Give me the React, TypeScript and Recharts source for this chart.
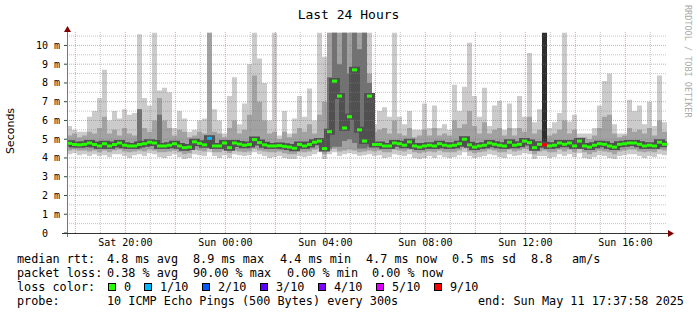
import React from 'react';
import { ComposedChart, Area, Line, Scatter, XAxis, YAxis, ReferenceLine } from 'recharts';

// time axis in hours since Sat 00:00, one column every 12 minutes
const T0 = 17 + 40 / 60;
const STEP = 0.2;
const YMAX = 10.77;

const med = [
  4.78, 4.72, 4.70, 4.73, 4.80, 4.72, 4.64, 4.76, 4.64, 4.72,
  4.80, 4.68, 4.64, 4.64, 4.72, 4.76, 4.84, 4.80, 4.64, 4.64,
  4.68, 4.76, 4.64, 4.55, 4.58, 4.86, 4.78, 4.70, 5.05, 4.64,
  4.64, 4.80, 4.55, 4.80, 4.74, 4.68, 4.72, 4.98, 4.82, 4.70,
  4.64, 4.64, 4.66, 4.62, 4.58, 4.52, 4.72, 4.64, 4.72, 4.84,
  4.90, 4.50, 5.40, 8.10, 7.30, 5.60, 6.20, 8.70, 5.50, 4.90,
  7.30, 4.72, 4.72, 4.64, 4.64, 4.80, 4.76, 4.68, 4.86, 4.64,
  4.58, 4.64, 4.68, 4.64, 4.76, 4.68, 4.64, 4.68, 4.76, 5.00,
  4.70, 4.58, 4.64, 4.68, 4.80, 4.73, 4.68, 4.64, 4.84, 4.68,
  4.73, 4.90, 4.82, 4.55, 4.73, 4.70, 4.64, 4.68, 4.80, 4.73,
  4.80, 4.64, 4.90, 4.64, 4.58, 4.68, 4.76, 4.73, 4.64, 4.58,
  4.73, 4.76, 4.80, 4.80, 4.73, 4.64, 4.68, 4.64, 4.84, 4.73,
];

const hi = [
  5.7, 5.5, 5.4, 5.4, 6.2, 6.5, 7.2, 8.7, 6.0, 6.5,
  6.1, 6.6, 6.3, 6.4, 10.6, 7.2, 6.8, 10.68, 7.6, 7.75,
  7.5, 5.6, 6.5, 6.1, 5.4, 5.5, 6.0, 6.1, 10.68, 6.6,
  6.0, 5.3, 7.3, 8.3, 5.8, 6.9, 9.0, 10.68, 9.3, 8.0,
  6.0, 10.68, 5.2, 6.5, 5.3, 6.1, 7.3, 6.2, 7.7, 6.0,
  10.68, 9.4, 10.68, 10.68, 10.68, 10.68, 10.68, 10.68, 10.68, 10.68,
  10.68, 5.8, 6.5, 6.7, 6.2, 10.68, 6.2, 5.8, 6.5, 5.5,
  5.5, 6.9, 5.6, 6.8, 5.6, 5.8, 5.5, 7.9, 6.5, 7.8,
  10.15, 7.3, 6.2, 7.75, 5.7, 6.8, 7.05, 5.5, 6.9, 5.6,
  7.3, 6.2, 9.6, 5.9, 6.6, 6.0, 5.6, 5.9, 6.4, 10.68,
  5.95, 6.3, 5.3, 5.3, 5.3, 5.6, 6.8, 8.1, 8.5, 5.8,
  5.3, 5.3, 7.1, 6.5, 6.8, 5.8, 7.0, 5.7, 8.4, 5.9,
];

const mhi = [
  5.2, 5.3, 5.1, 5.2, 5.4, 5.3, 5.6, 6.2, 5.3, 5.5,
  5.2, 5.6, 5.3, 5.2, 6.6, 5.6, 5.4, 6.0, 7.2, 6.0,
  5.6, 5.2, 5.5, 5.4, 5.1, 5.2, 5.4, 5.3, 10.68, 5.4,
  5.3, 5.1, 5.6, 6.0, 5.3, 5.5, 6.3, 8.4, 7.0, 6.0,
  5.3, 5.4, 5.0, 5.4, 5.1, 5.3, 5.6, 5.4, 5.8, 5.3,
  6.3, 7.0, 10.68, 10.68, 10.68, 10.68, 10.68, 10.68, 10.68, 10.68,
  8.5, 5.4, 5.5, 5.6, 5.3, 6.0, 5.3, 5.2, 5.6, 5.1,
  5.2, 5.5, 5.2, 5.6, 5.2, 5.3, 5.2, 6.0, 5.6, 5.8,
  6.5, 5.7, 5.3, 5.9, 5.3, 5.5, 5.6, 5.2, 5.6, 5.2,
  5.6, 5.4, 6.2, 5.3, 5.5, 5.5, 5.2, 5.3, 5.5, 6.0,
  5.3, 5.5, 5.1, 5.1, 5.0, 5.2, 5.6, 6.2, 6.3, 5.3,
  5.1, 5.2, 5.6, 5.4, 5.5, 5.3, 5.6, 5.2, 6.0, 5.4,
];

const mlo = [
  4.40, 4.45, 4.40, 4.40, 4.35, 4.40, 4.30, 4.40, 4.30, 4.40,
  4.45, 4.35, 4.30, 4.35, 4.40, 4.35, 4.45, 4.40, 4.30, 4.30,
  4.35, 4.40, 4.30, 4.20, 4.25, 4.45, 4.40, 4.35, 4.50, 4.30,
  4.30, 4.40, 4.25, 4.40, 4.35, 4.30, 4.35, 4.50, 4.40, 4.35,
  4.30, 4.30, 4.35, 4.25, 4.20, 4.20, 4.35, 4.30, 4.35, 4.45,
  4.50, 4.20, 4.40, 4.50, 4.35, 4.40, 4.45, 4.40, 4.30, 4.35,
  4.40, 4.35, 4.40, 4.30, 4.30, 4.45, 4.40, 4.35, 4.45, 4.30,
  4.25, 4.30, 4.35, 4.30, 4.40, 4.30, 4.30, 4.30, 4.40, 4.55,
  4.35, 4.25, 4.30, 4.35, 4.45, 4.40, 4.30, 4.30, 4.45, 4.35,
  4.40, 4.50, 4.45, 4.20, 4.35, 4.40, 4.30, 4.30, 4.45, 4.35,
  4.45, 4.30, 4.50, 4.30, 4.20, 4.30, 4.40, 4.35, 4.30, 4.20,
  4.35, 4.40, 4.45, 4.45, 4.35, 4.30, 4.35, 4.30, 4.45, 4.40,
];

const lo = [
  4.20, 4.25, 4.15, 4.20, 4.10, 4.20, 4.10, 4.15, 4.05, 4.20,
  4.20, 4.10, 4.00, 4.15, 4.20, 4.10, 4.25, 4.20, 4.05, 4.00,
  4.10, 4.20, 4.05, 3.95, 4.00, 4.20, 4.15, 4.10, 4.30, 4.10,
  4.00, 4.15, 4.00, 4.20, 4.15, 4.10, 4.15, 4.30, 4.20, 4.10,
  4.00, 4.05, 4.10, 4.00, 3.95, 3.95, 4.10, 4.05, 4.10, 4.20,
  4.30, 3.95, 4.20, 4.30, 4.10, 4.20, 4.25, 4.20, 4.10, 4.15,
  4.20, 4.10, 4.15, 4.00, 4.05, 4.20, 4.15, 4.10, 4.20, 4.00,
  3.95, 4.00, 4.10, 4.00, 4.15, 4.05, 4.00, 4.05, 4.15, 4.30,
  4.10, 4.00, 4.05, 4.10, 4.20, 4.15, 4.05, 4.00, 4.20, 4.10,
  4.15, 4.25, 4.20, 3.95, 4.10, 4.10, 4.00, 4.05, 4.20, 4.10,
  4.20, 4.05, 4.25, 4.00, 3.95, 4.05, 4.15, 4.10, 4.00, 3.95,
  4.10, 4.15, 4.20, 4.20, 4.10, 4.00, 4.10, 4.05, 4.20, 4.15,
];

// [column, low, high] of the dark smoke during the early morning burst
const darkBars = [
  [14, 4.5, 6.6], [18, 4.6, 6.3],
  [52, 4.5, 8.3], [53, 4.6, 10.68], [54, 4.6, 9.0], [55, 4.9, 10.68], [56, 5.0, 8.5],
  [57, 4.8, 10.68], [58, 4.5, 9.8], [59, 4.5, 10.68], [60, 4.6, 8.0],
];
const blackBars = [[95, 4.7, 10.68]];
// [column, lost pings out of 10]
const lossAt = [[28, 1], [95, 9]];

const lossColors: Record<number, string> = {
  0: '#26ff00', 1: '#00b8ff', 2: '#0059ff', 3: '#5e00ff', 4: '#7e00ff', 5: '#dd00ff', 9: '#ff0000',
};

const xTicks = [20, 24, 28, 32, 36, 40];
const xTickLabels = ['Sat 20:00', 'Sun 00:00', 'Sun 04:00', 'Sun 08:00', 'Sun 12:00', 'Sun 16:00'];
const yTicks = [0, 1, 2, 3, 4, 5, 6, 7, 8, 9, 10];

const hourLines = Array.from({ length: 24 }, (_, k) => 18 + k);
const msLines = Array.from({ length: 21 }, (_, k) => 0.5 + k * 0.5);

const rows = med.map((m, i) => {
  const d = darkBars.find((b) => b[0] === i);
  const b = blackBars.find((b) => b[0] === i);
  const l = lossAt.find((x) => x[0] === i);
  return {
    t: T0 + i * STEP,
    med: m,
    light: [lo[i], hi[i]],
    mid: [mlo[i], mhi[i]],
    dark: d ? [d[1], d[2]] : [m, m],
    black: b ? [b[1], b[2]] : [m, m],
    loss: l ? l[1] : 0,
  };
});
const data = [...rows, { ...rows[rows.length - 1], t: T0 + 24 }];

const MONO = 'DejaVu Sans Mono';

const MedianMark = (p: any) => (
  <rect x={p.cx} y={p.cy - 1.5} width={5} height={3} fill={lossColors[p.payload.loss]} />
);

const renderYTick = (p: any) => {
  const v = p.payload.value;
  return (
    <g>
      <line x1={p.x - 3} x2={p.x + 1} y1={p.y} y2={p.y} stroke="#2C4D43" />
      <text x={v === 0 ? p.x - 19 : p.x - 7} y={p.y + 3.5} textAnchor="end" fontFamily={MONO} fontSize={10} fill="#000">
        {v === 0 ? '0' : `${v} m`}
      </text>
    </g>
  );
};

const renderXTick = (p: any) => (
  <text x={p.x} y={p.y + 12.5} textAnchor="middle" fontFamily={MONO} fontSize={10} fill="#000">
    {xTickLabels[xTicks.indexOf(p.payload.value)]}
  </text>
);

const legendFont = { fontFamily: MONO, fontSize: 11.8, fill: '#000' };

const lossLegend = [
  { c: 0, label: '0', x: 124 },
  { c: 1, label: '1/10', x: 160 },
  { c: 2, label: '2/10', x: 218 },
  { c: 3, label: '3/10', x: 276 },
  { c: 4, label: '4/10', x: 334 },
  { c: 5, label: '5/10', x: 392 },
  { c: 9, label: '9/10', x: 450 },
];

export default function App() {
  return (
    <div style={{ position: 'absolute', left: 0, top: 0, width: 697, height: 315, background: '#fff' }}>
      <ComposedChart width={697} height={315} data={data} margin={{ top: 31, right: 30, bottom: 62, left: 0 }}>
        <XAxis
          type="number" dataKey="t" domain={[T0, T0 + 24]} ticks={xTicks} interval={0} allowDataOverflow
          height={20} axisLine={false} tickLine={false} tickSize={0} tickMargin={0} tick={renderXTick}
        />
        <YAxis
          type="number" domain={[0, YMAX]} ticks={yTicks} interval={0} allowDataOverflow
          width={67} axisLine={false} tickLine={false} tickSize={0} tickMargin={0} tick={renderYTick}
        />
        <Area type="stepAfter" dataKey="light" stroke="none" fill="#cbcbcb" fillOpacity={1} isAnimationActive={false} activeDot={false} />
        <Area type="stepAfter" dataKey="mid" stroke="none" fill="#a2a2a2" fillOpacity={1} isAnimationActive={false} activeDot={false} />
        <Area type="stepAfter" dataKey="dark" stroke="none" fill="#727272" fillOpacity={1} isAnimationActive={false} activeDot={false} />
        <Line type="stepAfter" dataKey="med" stroke="#505050" strokeWidth={6} dot={false} isAnimationActive={false} activeDot={false} />
        <Area type="stepAfter" dataKey="black" stroke="none" fill="#2e2e2e" fillOpacity={1} isAnimationActive={false} activeDot={false} />
        {msLines.map((v) => (
          <ReferenceLine key={'h' + v} y={v} stroke={v % 1 === 0 ? 'rgba(222,80,80,0.55)' : 'rgba(128,128,128,0.45)'} strokeDasharray="1 1" />
        ))}
        {hourLines.map((h) => (
          <ReferenceLine key={'v' + h} x={h} stroke={h % 2 === 0 ? 'rgba(222,80,80,0.55)' : 'rgba(128,128,128,0.45)'} strokeDasharray="1 1" />
        ))}
        <Scatter data={rows} dataKey="med" shape={<MedianMark />} isAnimationActive={false} />
      </ComposedChart>

      <svg width={697} height={315} style={{ position: 'absolute', left: 0, top: 0, pointerEvents: 'none' }}>
        <text x={348.5} y={18.5} textAnchor="middle" fontFamily={MONO} fontSize={13} fill="#000">Last 24 Hours</text>
        <text transform="translate(14,131) rotate(-90)" textAnchor="middle" fontFamily="DejaVu Sans" fontSize={11} fill="#000">Seconds</text>
        <text transform="translate(685,5) rotate(90)" fontFamily={MONO} fontSize={8.5} fill="#aaa">RRDTOOL / TOBI OETIKER</text>

        <line x1={67.5} x2={67.5} y1={237} y2={31} stroke="#777" />
        <polygon points="67.5,26 64,32 71,32" fill="#7f0000" />
        <line x1={62} x2={669} y1={233.5} y2={233.5} stroke="#333" />
        <polygon points="674,233.5 668,230 668,237" fill="#7f0000" />

        <text x={17} y={263} {...legendFont}>median rtt:</text>
        <text x={107} y={263} {...legendFont}>4.8 ms avg</text>
        <text x={193} y={263} {...legendFont}>8.9 ms max</text>
        <text x={280} y={263} {...legendFont}>4.4 ms min</text>
        <text x={366} y={263} {...legendFont}>4.7 ms now</text>
        <text x={452} y={263} {...legendFont}>0.5 ms sd</text>
        <text x={531} y={263} {...legendFont}>8.8</text>
        <text x={572} y={263} {...legendFont}>am/s</text>

        <text x={17} y={277} {...legendFont}>packet loss:</text>
        <text x={107} y={277} {...legendFont}>0.38 % avg</text>
        <text x={193} y={277} {...legendFont}>90.00 % max</text>
        <text x={287} y={277} {...legendFont}>0.00 % min</text>
        <text x={372} y={277} {...legendFont}>0.00 % now</text>

        <text x={17} y={291} {...legendFont}>loss color:</text>
        {lossLegend.map((l) => (
          <g key={l.label}>
            <rect x={l.x - 15.5} y={283.5} width={7} height={7} fill={lossColors[l.c]} stroke="#000" />
            <text x={l.x} y={291} {...legendFont}>{l.label}</text>
          </g>
        ))}

        <text x={17} y={305} {...legendFont}>probe:</text>
        <text x={107} y={305} {...legendFont}>10 ICMP Echo Pings (500 Bytes) every 300s</text>
        <text x={478} y={305} {...legendFont}>end: Sun May 11 17:37:58 2025</text>
      </svg>
    </div>
  );
}
